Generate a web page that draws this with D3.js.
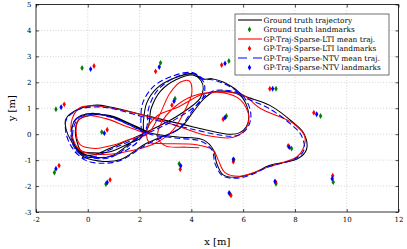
<!DOCTYPE html>
<html>
<head>
<meta charset="utf-8">
<script src="https://cdn.jsdelivr.net/npm/d3@7"></script>
<style>
  html, body { margin: 0; padding: 0; background: #fff; }
  svg { display: block; }
</style>
</head>
<body>
<div id="chart"></div>
<script>
// ticks
const xTicks = [-2, 0, 2, 4, 6, 8, 10, 12];
const yTicks = [-3, -2, -1, 0, 1, 2, 3, 4, 5];

// trajectories [x, y] in metres
const gtTraj = [
  [2.4, 0.05], [1.6, 0.42], [0.86, 0.72], [0.1, 0.72], [-0.35, 0.55], [-0.48, 0.15], [-0.4, -0.35], [-0.25, -0.65],
  [0.2, -0.72], [0.86, -0.68], [1.6, -0.35], [2.1, -0.1], [2.15, 0.5], [2.27, 1.19], [2.66, 1.77], [3.3, 2.15],
  [4.07, 2.33], [4.45, 2.12], [4.78, 2.14], [5.23, 2.01], [5.68, 1.75], [6.0, 1.5], [7.03, 1.11], [7.93, 0.45],
  [8.35, 0.02], [8.45, -0.58], [8.1, -0.95], [7.03, -1.2], [6.4, -1.5], [5.75, -1.66], [5.23, -1.57], [4.98, -1.12],
  [4.85, -0.6], [4.46, -0.22], [3.4, -0.1], [2.4, 0.05], [1.6, 0.4], [0.86, 0.68], [0.1, 0.8], [-0.45, 0.6],
  [-0.62, 0.05], [-0.45, -0.5], [0.0, -0.82], [0.86, -0.86], [1.7, -0.3], [2.3, 0.2], [2.45, 1.0], [2.8, 1.65],
  [3.4, 2.1], [4.05, 2.28], [4.38, 2.05], [4.46, 1.75], [4.33, 1.37], [3.43, 0.68], [2.2, 0.05], [0.86, -0.54],
  [0.3, -0.78], [-0.2, -0.78], [-0.62, -0.3], [-0.84, 0.2], [-0.85, 0.58], [-0.4, 0.95], [0.34, 1.12], [0.86, 1.05],
  [2.4, 0.68], [4.0, 0.3], [5.5, 0.0], [5.85, 0.05], [6.13, 0.3], [6.22, 0.67], [6.13, 1.12], [5.88, 1.5],
  [5.23, 1.66], [4.84, 1.62], [4.5, 1.38], [4.07, 0.86], [3.56, 0.23], [2.27, -0.35], [1.24, -0.99], [0.6, -1.05],
  [-0.1, -0.9], [-0.45, -0.62]
];
const ltiTraj = [
  [2.3, 0.0], [1.5, 0.3], [0.7, 0.6], [0.0, 0.72], [-0.35, 0.55], [-0.45, 0.1], [-0.3, -0.4], [0.28, -0.55],
  [1.0, -0.42], [1.6, -0.2], [2.3, 0.0], [2.75, 0.7], [3.17, 1.58], [3.6, 2.02], [3.92, 2.05], [4.02, 1.6],
  [3.82, 1.06], [3.3, 0.17], [2.7, -0.3], [1.76, -0.62], [0.47, -0.78], [-0.3, -0.62], [-0.62, 0.0], [-0.6, 0.6],
  [-0.3, 1.02], [0.34, 1.09], [1.2, 0.95], [2.2, 0.72], [3.5, 0.3], [4.6, -0.05], [5.62, -0.12], [6.07, 0.17],
  [6.22, 0.68], [5.9, 1.32], [5.23, 1.6], [4.46, 1.55], [3.5, 1.05], [2.7, 0.72], [2.3, 0.2], [2.35, -0.3],
  [2.8, -0.36], [4.2, -0.41], [4.85, -0.62], [5.04, -1.0], [5.3, -1.48], [5.88, -1.62], [7.03, -1.25], [8.07, -0.88],
  [8.32, -0.55], [8.38, -0.09], [7.93, 0.42], [6.65, 1.0], [6.0, 1.5], [4.72, 1.62], [4.0, 1.45], [3.3, 1.0],
  [2.85, 0.45], [2.7, -0.1], [3.0, -0.45], [3.8, -0.5], [4.3, -0.52]
];
const ntvTraj = [
  [2.4, 0.0], [1.6, 0.36], [0.86, 0.68], [0.2, 0.8], [-0.3, 0.68], [-0.55, 0.25], [-0.55, -0.35], [-0.3, -0.75],
  [0.2, -0.9], [0.86, -0.85], [1.6, -0.55], [2.05, -0.12], [2.05, 0.5], [2.12, 1.2], [2.55, 1.85], [3.3, 2.25],
  [4.05, 2.38], [4.5, 2.12], [4.8, 2.1], [5.25, 1.95], [5.7, 1.7], [6.0, 1.45], [6.95, 1.02], [7.85, 0.38],
  [8.25, -0.05], [8.35, -0.6], [8.0, -0.95], [7.0, -1.25], [6.35, -1.55], [5.75, -1.7], [5.2, -1.6], [4.92, -1.15],
  [4.8, -0.62], [4.4, -0.28], [3.4, -0.15], [2.4, 0.0], [1.6, 0.35], [0.86, 0.66], [0.1, 0.76], [-0.48, 0.55],
  [-0.65, 0.0], [-0.5, -0.55], [0.0, -0.88], [0.86, -0.9], [1.7, -0.35], [2.25, 0.2], [2.35, 1.0], [2.7, 1.7],
  [3.4, 2.2], [4.05, 2.35], [4.45, 2.05], [4.52, 1.72], [4.38, 1.3], [3.43, 0.6], [2.2, -0.02], [0.86, -0.6],
  [0.3, -0.85], [-0.2, -0.9], [-0.62, -0.5], [-0.85, 0.1], [-0.82, 0.58], [-0.35, 0.95], [0.3, 1.05], [0.86, 1.0],
  [2.4, 0.6], [4.0, 0.2], [5.5, -0.08], [5.9, 0.0], [6.2, 0.3], [6.3, 0.7], [6.2, 1.15], [5.9, 1.55],
  [5.23, 1.7], [4.8, 1.65], [4.45, 1.4], [4.0, 0.86], [3.5, 0.2], [2.27, -0.4], [1.24, -1.02], [0.45, -1.12],
  [-0.1, -1.0], [-0.5, -0.68]
];

// landmarks [x, y]
const gtLandmarks = [
  [-1.23, 0.96], [-0.22, 2.55], [2.81, 2.75], [3.37, 1.37], [5.45, 2.82], [7.27, 1.75], [5.35, 0.7], [8.99, 0.7],
  [0.54, 0.08], [-1.29, -1.48], [0.7, -1.92], [3.53, -1.14], [5.64, -0.98], [5.49, -2.3], [7.27, -1.91], [7.87, -0.55],
  [9.48, -1.85]
];
const ltiLandmarks = [
  [-0.91, 1.15], [0.24, 2.63], [2.62, 2.42], [3.25, 1.12], [5.17, 2.67], [7.03, 1.75], [5.23, 0.58], [8.73, 0.83],
  [0.75, 0.17], [-1.11, -1.21], [0.86, -1.76], [3.57, -1.35], [5.62, -1.06], [5.53, -2.36], [7.26, -1.85], [7.74, -0.45],
  [9.46, -1.6]
];
const ntvLandmarks = [
  [-1.03, 1.04], [0.11, 2.51], [2.76, 2.59], [3.33, 1.27], [5.3, 2.73], [7.14, 1.75], [5.3, 0.64], [8.84, 0.77],
  [0.64, 0.04], [-1.23, -1.33], [0.75, -1.86], [3.59, -1.22], [5.62, -0.97], [5.46, -2.27], [7.23, -1.82], [7.78, -0.5],
  [9.44, -1.72]
];

const legendLabels = [
  'Ground truth trajectory',
  'Ground truth landmarks',
  'GP-Traj-Sparse-LTI mean traj.',
  'GP-Traj-Sparse-LTI landmarks',
  'GP-Traj-Sparse-NTV mean traj.',
  'GP-Traj-Sparse-NTV landmarks'
];

const width = 407, height = 249;
const plot = { left: 36, right: 398.5, top: 4.5, bottom: 212 };
const serif = '"DejaVu Serif", "Liberation Serif", serif';

const svg = d3.select('#chart').append('svg')
  .attr('width', width)
  .attr('height', height);

const xScale = d3.scaleLinear().domain([-2, 12]).range([plot.left, plot.right]);
const yScale = d3.scaleLinear().domain([-3, 5]).range([plot.bottom, plot.top]);

// grid
const grid = svg.append('g')
  .attr('stroke', '#a8a8a8')
  .attr('stroke-width', 0.6)
  .attr('stroke-dasharray', '0.8,2');
grid.selectAll('.gx')
  .data(xTicks.slice(1, -1))
  .join('line')
    .attr('x1', d => xScale(d)).attr('x2', d => xScale(d))
    .attr('y1', plot.top).attr('y2', plot.bottom);
grid.selectAll('.gy')
  .data(yTicks.slice(1, -1))
  .join('line')
    .attr('x1', plot.left).attr('x2', plot.right)
    .attr('y1', d => yScale(d)).attr('y2', d => yScale(d));

// axes, ticks pointing inwards
function styleAxis(g) {
  g.select('.domain').remove();
  g.selectAll('.tick line').attr('stroke', '#000').attr('stroke-width', 0.7);
  g.selectAll('text')
    .attr('fill', '#000')
    .style('font-family', serif)
    .style('font-size', '7px');
}
svg.append('g')
  .attr('transform', `translate(0, ${plot.bottom})`)
  .call(d3.axisBottom(xScale).tickValues(xTicks).tickSize(-3).tickPadding(5).tickFormat(d => d))
  .call(styleAxis);
svg.append('g')
  .attr('transform', `translate(0, ${plot.top})`)
  .call(d3.axisTop(xScale).tickValues(xTicks).tickSize(-3).tickFormat(''))
  .call(styleAxis);
svg.append('g')
  .attr('transform', `translate(${plot.left}, 0)`)
  .call(d3.axisLeft(yScale).tickValues(yTicks).tickSize(-3).tickPadding(4.5).tickFormat(d => d))
  .call(styleAxis);
svg.append('g')
  .attr('transform', `translate(${plot.right}, 0)`)
  .call(d3.axisRight(yScale).tickValues(yTicks).tickSize(-3).tickFormat(''))
  .call(styleAxis);

// axis labels
svg.append('text')
  .attr('x', (plot.left + plot.right) / 2)
  .attr('y', 245)
  .attr('text-anchor', 'middle')
  .style('font-family', serif)
  .style('font-size', '10px')
  .text('x [m]');
svg.append('text')
  .attr('transform', `translate(15, ${(plot.top + plot.bottom) / 2}) rotate(-90)`)
  .attr('text-anchor', 'middle')
  .style('font-family', serif)
  .style('font-size', '10px')
  .text('y [m]');

svg.append('clipPath').attr('id', 'plot-clip')
  .append('rect')
    .attr('x', plot.left).attr('y', plot.top)
    .attr('width', plot.right - plot.left).attr('height', plot.bottom - plot.top);

const line = d3.line()
  .x(d => xScale(d[0]))
  .y(d => yScale(d[1]))
  .curve(d3.curveCatmullRom.alpha(0.5));

const marks = svg.append('g').attr('clip-path', 'url(#plot-clip)');
const diamond = d3.symbol().type(d3.symbolDiamond).size(10);

function drawLandmarks(data, color) {
  marks.append('g')
    .selectAll('path')
    .data(data)
    .join('path')
      .attr('transform', d => `translate(${xScale(d[0])}, ${yScale(d[1])})`)
      .attr('d', diamond)
      .attr('fill', color);
}

// series in legend order
marks.append('path')
  .datum(gtTraj)
  .attr('d', line)
  .attr('fill', 'none')
  .attr('stroke', '#000')
  .attr('stroke-width', 1.05);
drawLandmarks(gtLandmarks, '#008000');
marks.append('path')
  .datum(ltiTraj)
  .attr('d', line)
  .attr('fill', 'none')
  .attr('stroke', '#ff0000')
  .attr('stroke-width', 1.05);
drawLandmarks(ltiLandmarks, '#ff0000');
marks.append('path')
  .datum(ntvTraj)
  .attr('d', line)
  .attr('fill', 'none')
  .attr('stroke', '#0000ff')
  .attr('stroke-width', 1.1)
  .attr('stroke-dasharray', '6,3');
drawLandmarks(ntvLandmarks, '#0000ff');

// frame
svg.append('rect')
  .attr('x', plot.left).attr('y', plot.top)
  .attr('width', plot.right - plot.left).attr('height', plot.bottom - plot.top)
  .attr('fill', 'none')
  .attr('stroke', '#000')
  .attr('stroke-width', 0.8);

// legend
const legend = svg.append('g').attr('transform', 'translate(235, 14)');
legend.append('rect')
  .attr('width', 154).attr('height', 61)
  .attr('fill', '#fff')
  .attr('stroke', '#333')
  .attr('stroke-width', 0.7);
const legendKinds = [
  { type: 'line', color: '#000', dash: null },
  { type: 'dot', color: '#008000' },
  { type: 'line', color: '#ff0000', dash: null },
  { type: 'dot', color: '#ff0000' },
  { type: 'line', color: '#0000ff', dash: '9,6' },
  { type: 'dot', color: '#0000ff' }
];
const rows = legend.selectAll('g.row')
  .data(legendLabels)
  .join('g')
    .attr('class', 'row')
    .attr('transform', (d, i) => `translate(0, ${6 + i * 9.5})`);
rows.each(function (d, i) {
  const row = d3.select(this);
  const kind = legendKinds[i];
  if (kind.type === 'line') {
    row.append('line')
      .attr('x1', 3).attr('x2', 27)
      .attr('y1', 0).attr('y2', 0)
      .attr('stroke', kind.color)
      .attr('stroke-width', 1.1)
      .attr('stroke-dasharray', kind.dash);
  } else {
    row.append('path')
      .attr('transform', 'translate(14.5, 0)')
      .attr('d', diamond)
      .attr('fill', kind.color);
  }
  row.append('text')
    .attr('x', 28.5)
    .attr('y', 2.6)
    .style('font-family', serif)
    .style('font-size', '7.4px')
    .text(d);
});
</script>
</body>
</html>
